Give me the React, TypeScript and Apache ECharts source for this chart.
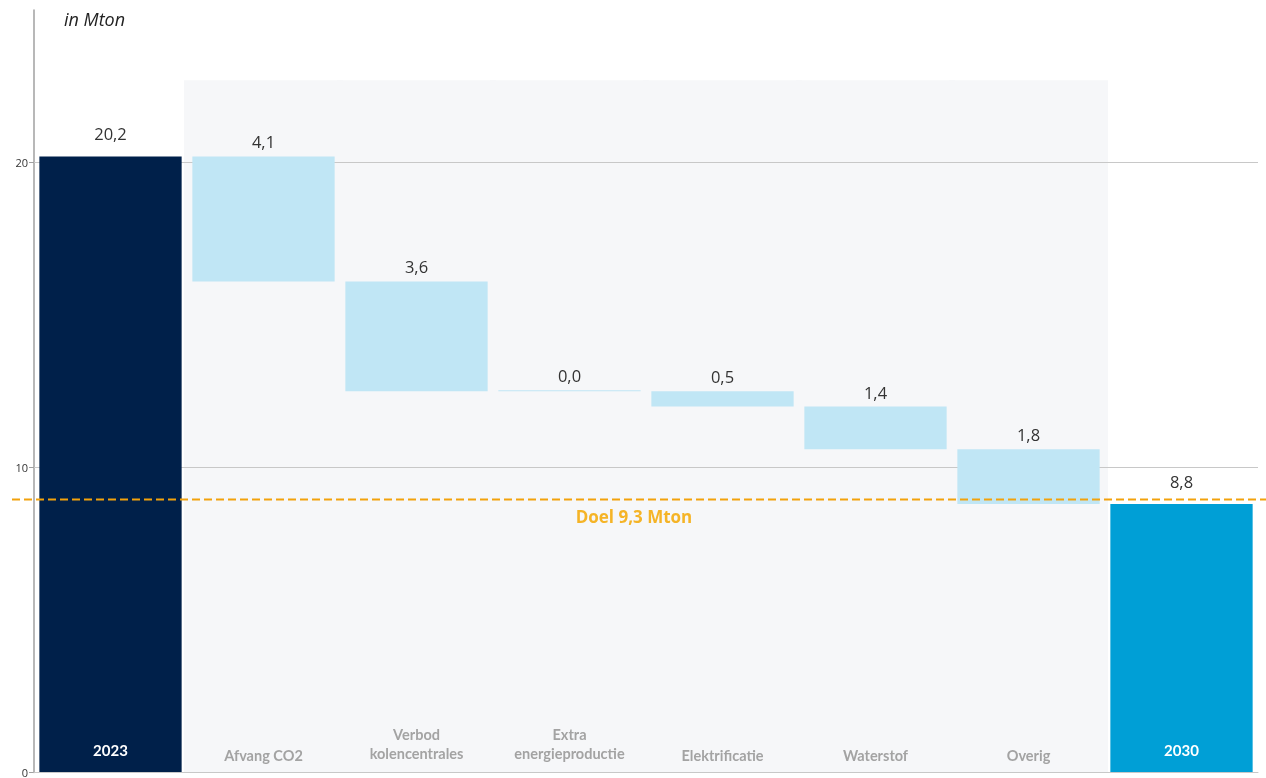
import React, { useEffect, useRef } from "react";
import * as echarts from "echarts";

const categories = [
  "2023",
  "Afvang CO2",
  "Verbod\nkolencentrales",
  "Extra\nenergieproductie",
  "Elektrificatie",
  "Waterstof",
  "Overig",
  "2030",
];
const startValue = 20.2;
const reductions = [4.1, 3.6, 0.0, 0.5, 1.4, 1.8];
const endValue = 8.8;
const targetLine = 8.95;
const targetLabel = "Doel 9,3 Mton";
const shadeTop = 22.7;
const yTicks = [0, 10, 20];
const gridValues = [10, 20];
const unitLabel = "in Mton";

const fmt = (v: number) => v.toFixed(1).replace(".", ",");

export default function App() {
  const ref = useRef<HTMLDivElement>(null);
  useEffect(() => {
    if (!ref.current) return;
    const chart = echarts.init(ref.current, null, { renderer: "svg" });

    const bases: (number | null)[] = [null];
    let running = startValue;
    reductions.forEach((r) => {
      running = Math.round((running - r) * 10) / 10;
      bases.push(running);
    });
    bases.push(null);

    const deltaData: any[] = [
      {
        value: startValue,
        itemStyle: { color: "#00204a" },
        label: { distance: 14 },
      },
      ...reductions.map((r) => ({ value: r })),
      {
        value: endValue,
        itemStyle: { color: "#009fd6" },
        label: { distance: 14 },
      },
    ];

    const shadeData = categories.map((_, i) =>
      i === 0 || i === categories.length - 1 ? null : shadeTop
    );

    chart.setOption({
      animation: false,
      grid: { left: 34, right: 8, top: 10, bottom: 3, containLabel: false },
      xAxis: [
        {
          type: "category",
          data: categories,
          axisLine: { show: true, lineStyle: { color: "#c8c8c8", width: 1 } },
          axisTick: { show: false },
          z: 10,
          axisLabel: {
            inside: true,
            margin: 8,
            interval: 0,
            formatter: (v: string, i: number) =>
              i === 0 || i === categories.length - 1
                ? `{w|${v}}`
                : v.indexOf("\n") >= 0
                ? `{m|${v}}`
                : `{g|${v}}`,
            rich: {
              w: {
                color: "#ffffff",
                fontFamily: "Lato",
                fontWeight: "bold",
                fontSize: 15,
                lineHeight: 18,
                padding: [0, 0, 12, 0],
              },
              g: {
                color: "#a3a3a3",
                fontFamily: "Lato",
                fontWeight: "bold",
                fontSize: 14.5,
                lineHeight: 19,
                align: "center",
              },
              m: {
                color: "#a3a3a3",
                fontFamily: "Lato",
                fontWeight: "bold",
                fontSize: 14.5,
                lineHeight: 19,
                align: "center",
                padding: [0, 0, 3, 0],
              },
            },
          },
        },
        {
          type: "category",
          data: categories,
          show: false,
        },
      ],
      yAxis: {
        type: "value",
        min: 0,
        max: 25,
        interval: 10,
        axisLine: { show: true, lineStyle: { color: "#a0a0a0", width: 1.5 } },
        axisTick: {
          show: true,
          length: 5,
          lineStyle: { color: "#a0a0a0" },
          customValues: yTicks,
        },
        axisLabel: {
          color: "#333",
          fontSize: 11,
          fontFamily: "Open Sans",
          margin: 6,
          customValues: yTicks,
        },
        splitLine: { show: false },
      },
      series: [
        {
          name: "shade",
          type: "bar",
          xAxisIndex: 1,
          data: shadeData,
          barWidth: 159,
          itemStyle: { color: "#f6f7f9" },
          silent: true,
          z: 1,
          markLine: {
            silent: true,
            symbol: "none",
            z: 2,
            label: { show: false },
            lineStyle: { color: "#c8c8c8", type: "solid", width: 1.2 },
            data: gridValues.map((v) => ({ yAxis: v })),
          },
        },
        {
          name: "base",
          type: "bar",
          stack: "w",
          data: bases,
          itemStyle: { color: "transparent" },
          barCategoryGap: "7%",
          z: 3,
        },
        {
          name: "delta",
          type: "bar",
          stack: "w",
          data: deltaData,
          barCategoryGap: "7%",
          barMinHeight: 1,
          itemStyle: { color: "#c0e6f5" },
          z: 3,
          label: {
            show: true,
            position: "top",
            distance: 6,
            color: "#333",
            fontSize: 16.5,
            fontFamily: "Open Sans",
            formatter: (p: any) => fmt(p.value),
          },
        },
      ],
    });

    const y = chart.convertToPixel({ yAxisIndex: 0 }, targetLine) as number;
    const x3 = chart.convertToPixel({ xAxisIndex: 0 }, categories[3]) as number;
    const x4 = chart.convertToPixel({ xAxisIndex: 0 }, categories[4]) as number;
    chart.setOption({
      graphic: [
        {
          type: "line",
          z: 20,
          shape: { x1: 12, y1: y, x2: 1266, y2: y },
          style: { stroke: "#f2a20c", lineWidth: 2, lineDash: [8, 4] },
        },
        {
          type: "text",
          z: 20,
          x: (x3 + x4) / 2 - 12,
          y: y + 8,
          style: {
            text: targetLabel,
            fill: "#f5b427",
            font: "bold 17px 'Open Sans'",
            textAlign: "center",
            textVerticalAlign: "top",
          },
        },
        {
          type: "text",
          z: 20,
          x: 64,
          y: 10,
          style: {
            text: unitLabel,
            fill: "#222",
            font: "italic 18px 'Open Sans'",
          },
        },
      ],
    });

    return () => chart.dispose();
  }, []);

  return (
    <div
      ref={ref}
      style={{ position: "fixed", left: 0, top: 0, width: 1266, height: 778 }}
    />
  );
}
